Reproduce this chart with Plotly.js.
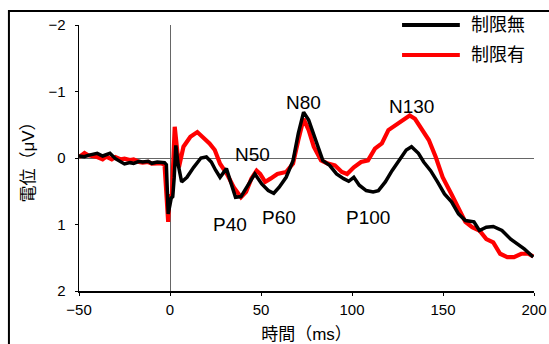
<!DOCTYPE html>
<html>
<head>
<meta charset="utf-8">
<script src="https://cdn.plot.ly/plotly-3.0.1.min.js"></script>
<style>html,body{margin:0;padding:0;background:#fff;}#chart{width:549px;height:344px;}</style>
</head>
<body>
<div id="chart"></div>
<script>
// Series names
const seriesNames = ["制限無", "制限有"];

// 制限無 (black)
const timeBlack = [-50,-47,-45,-42,-40,-37,-35,-33,-30,-27,-25,-22,-20,-17,-15,-12,-10,-7,-5,-3,-2,-1.5,-1,0,0.7,1.5,2.3,3.2,4.5,6.4,9.3,13,17,20,22.7,25,27.5,31,33,36,39,43,46.6,50.4,54,57,60,63.8,67.6,70.5,73.4,76.2,80,84,87.7,91.5,95.4,98.2,101,104,107.8,111.6,114.5,118.3,122,126,129.8,132.7,136.5,139.4,143.2,147,150.8,154.7,158.5,162.3,167,170,173.8,177.6,182.4,187.2,191,194.8,199.6];
const voltBlack = [-0.03,-0.02,-0.04,-0.06,-0.07,-0.03,-0.05,-0.07,0.01,0.06,0.09,0.07,0.08,0.05,0.06,0.05,0.08,0.06,0.06,0.07,0.1,0.5,0.84,0.7,0.6,0.58,0.3,-0.19,0.1,0.36,0.29,0.14,0.0,-0.015,0.06,0.18,0.29,0.16,0.34,0.59,0.58,0.39,0.24,0.39,0.49,0.53,0.44,0.29,0.04,-0.37,-0.69,-0.57,-0.27,0.04,0.11,0.24,0.31,0.35,0.29,0.41,0.49,0.51,0.49,0.36,0.19,0.035,-0.12,-0.17,-0.07,0.06,0.19,0.36,0.54,0.66,0.84,0.94,0.96,1.09,1.04,1.03,1.09,1.22,1.29,1.37,1.49];

// 制限有 (red)
const timeRed = [-50,-47,-45,-42,-40,-37,-35,-32,-30,-27,-25,-22,-20,-17,-15,-12,-10,-7,-5,-3,-2,-1,-0.3,1,2.6,4.9,7.4,11.2,15,18,21.7,24.6,27.5,31.3,35,39,41.8,44.7,47.6,49.5,52.3,55.2,59,63.8,67.6,70.5,73.4,76.2,79,83,86.8,90.6,94.4,97.3,101,105,108.8,112.6,116.4,120,124,128,131.7,134.6,138.4,142.2,146,149.8,154.6,158.5,162.3,166,170,173.8,177.6,181.4,185.3,189,193,196.8,199.6];
const voltRed = [-0.015,-0.075,-0.04,-0.03,-0.015,0.02,-0.02,0.02,-0.015,0.02,0.01,0.03,0.02,0.06,0.07,0.06,0.085,0.08,0.08,0.1,0.6,0.96,0.55,0.6,-0.47,0.14,-0.17,-0.32,-0.39,-0.32,-0.22,-0.12,0.085,0.24,0.44,0.59,0.51,0.31,0.19,0.24,0.36,0.31,0.24,0.21,0.085,-0.27,-0.59,-0.42,-0.17,0.035,0.085,0.11,0.21,0.24,0.14,0.06,0.035,-0.14,-0.22,-0.42,-0.49,-0.57,-0.64,-0.59,-0.44,-0.27,-0.015,0.29,0.54,0.74,0.96,1.04,1.09,1.22,1.27,1.44,1.49,1.49,1.44,1.44,1.48];

// Peak labels
const peakNames = ["N50","N80","N130","P40","P60","P100"];
const peakTimes = [45.5,73.4,132.5,33.2,60,108.8];
const peakVolts = [-0.05,-0.84,-0.78,1.0,0.9,0.9];

// Axis ticks
const xTicks = [-50,0,50,100,150,200];
const yTicks = [-2,-1,0,1,2];

const FONT = "Arial, 'Liberation Sans', 'Noto Sans CJK JP', sans-serif";

const traces = [
  {x: timeRed, y: voltRed, type: "scatter", mode: "lines", name: seriesNames[1],
   line: {color: "#ff0000", width: 4.2}, showlegend: false},
  {x: timeBlack, y: voltBlack, type: "scatter", mode: "lines", name: seriesNames[0],
   line: {color: "#000000", width: 3.5}, showlegend: false}
];

const annotations = peakNames.map((t, i) => ({
  x: peakTimes[i], y: peakVolts[i], xref: "x", yref: "y", text: t, showarrow: false,
  font: {family: FONT, size: 19, color: "#000"}
}));
// manual legend texts
annotations.push({x: 0.857, y: 1.0, xref: "paper", yref: "paper", text: seriesNames[0], showarrow: false,
  xanchor: "left", yanchor: "middle", font: {family: FONT, size: 18, color: "#000"}});
annotations.push({x: 0.857, y: 0.887, xref: "paper", yref: "paper", text: seriesNames[1], showarrow: false,
  xanchor: "left", yanchor: "middle", font: {family: FONT, size: 18, color: "#000"}});

const shapes = [
  {type: "rect", xref: "paper", yref: "paper", x0: -0.154, x1: 1.1, y0: -0.3, y1: 1.0526,
   line: {color: "#000", width: 2}, fillcolor: "rgba(0,0,0,0)", layer: "below"},
  {type: "line", xref: "paper", yref: "paper", x0: 0.71, x1: 0.837, y0: 1.0, y1: 1.0,
   line: {color: "#000", width: 4}},
  {type: "line", xref: "paper", yref: "paper", x0: 0.71, x1: 0.837, y0: 0.887, y1: 0.887,
   line: {color: "#ff0000", width: 4}}
];

const layout = {
  width: 549, height: 344,
  margin: {l: 79, r: 15, t: 25, b: 53},
  paper_bgcolor: "#fff", plot_bgcolor: "#fff",
  font: {family: FONT, size: 15, color: "#000"},
  showlegend: false,
  xaxis: {
    range: [-50, 200], tickvals: xTicks, ticks: "outside", ticklen: 3, tickcolor: "#000",
    showline: true, linecolor: "#000", linewidth: 1.5, showgrid: false,
    zeroline: true, zerolinecolor: "#666", zerolinewidth: 1,
    tickfont: {family: FONT, size: 15}, ticklabelstandoff: 1,
    title: {text: "時間（ms）", font: {family: FONT, size: 17}, standoff: 11}
  },
  yaxis: {
    range: [2, -2], tickvals: yTicks, ticks: "outside", ticklen: 3, tickcolor: "#000",
    showline: true, linecolor: "#000", linewidth: 1.5, showgrid: false,
    zeroline: true, zerolinecolor: "#666", zerolinewidth: 1,
    tickfont: {family: FONT, size: 15}, ticklabelstandoff: 6,
    title: {text: "電位（μV）", font: {family: FONT, size: 17}, standoff: 9}
  },
  annotations: annotations,
  shapes: shapes
};

Plotly.newPlot("chart", traces, layout, {displayModeBar: false, staticPlot: true});
</script>
</body>
</html>
